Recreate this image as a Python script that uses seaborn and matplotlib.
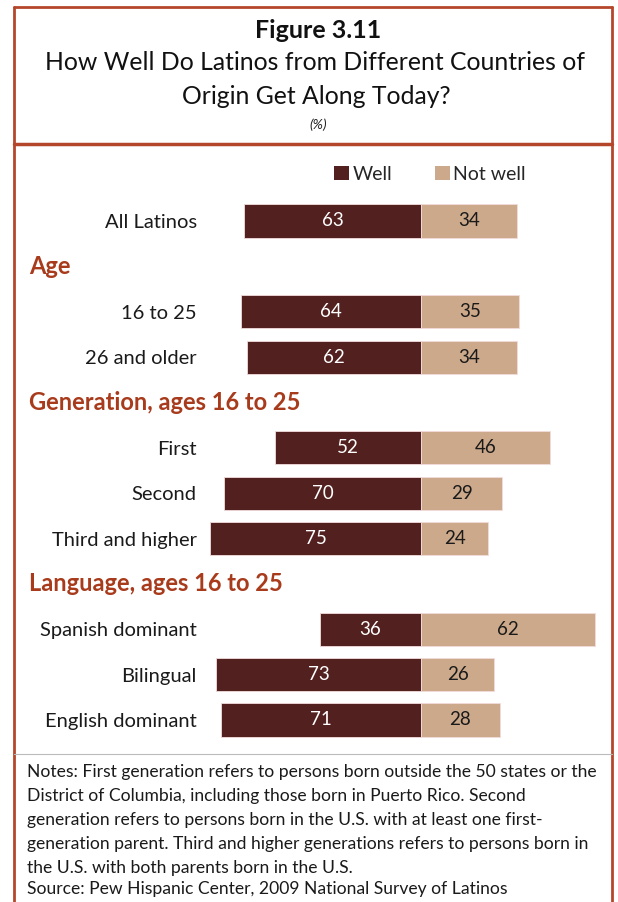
import pandas as pd
import matplotlib.pyplot as plt
import seaborn as sns
from matplotlib.patches import Patch
from matplotlib.lines import Line2D
import matplotlib.transforms as mtransforms

# rows of the chart, top to bottom (headers have no values)
rows = ['All Latinos', 'Age', '16 to 25', '26 and older',
        'Generation, ages 16 to 25', 'First', 'Second', 'Third and higher',
        'Language, ages 16 to 25', 'Spanish dominant', 'Bilingual', 'English dominant']
headers = ['Age', 'Generation, ages 16 to 25', 'Language, ages 16 to 25']

groups = ['All Latinos', '16 to 25', '26 and older', 'First', 'Second',
          'Third and higher', 'Spanish dominant', 'Bilingual', 'English dominant']
well = [63, 64, 62, 52, 70, 75, 36, 73, 71]
not_well = [34, 35, 34, 46, 29, 24, 62, 26, 28]

WELL_C = '#52211f'
NOT_C = '#cca98a'
RUST = '#a83b1c'
FRAME = '#b4462b'

df = pd.DataFrame({'group': groups, 'well': well, 'not_well': not_well})
df['well_neg'] = -df['well']

sns.set_style('white')
plt.rcParams['font.family'] = ['Lato', 'DejaVu Sans']

W, H = 618, 902
fig = plt.figure(figsize=(W / 100, H / 100), dpi=100)

def fx(px):
    return px / W

def fy(py):
    return 1 - py / H

# axes placement in pixels
ax_l, ax_r, ax_t, ax_b = 205, 605, 195, 745
zero_px, scale = 421, 2.81
row0_px, pitch = 221, 45.36
ax = fig.add_axes([fx(ax_l), fy(ax_b), (ax_r - ax_l) / W, (ax_b - ax_t) / H])

sns.barplot(data=df, y='group', x='well_neg', order=rows, color=WELL_C,
            width=0.73, edgecolor='#f3dcdc', linewidth=0.6, ax=ax, saturation=1)
sns.barplot(data=df, y='group', x='not_well', order=rows, color=NOT_C,
            width=0.73, edgecolor='#f3dcdc', linewidth=0.6, ax=ax, saturation=1)

ax.set_xlim((ax_l - zero_px) / scale, (ax_r - zero_px) / scale)
ax.set_ylim((ax_b - row0_px) / pitch, (ax_t - row0_px) / pitch)

# value labels
for i, g in enumerate(rows):
    if g in headers:
        continue
    r = df[df['group'] == g].iloc[0]
    ax.text(-r['well'] / 2, i, f"{r['well']}", ha='center', va='center',
            color='white', fontsize=13.5)
    ax.text(r['not_well'] / 2, i, f"{r['not_well']}", ha='center', va='center',
            color='#1a1a1a', fontsize=13.5)

ax.set_xlabel('')
ax.set_ylabel('')
ax.set_xticks([])
ax.tick_params(axis='y', length=0, pad=6, labelsize=14.5, labelcolor='#1a1a1a')
ax.set_yticks(range(len(rows)))
ax.set_yticklabels(['' if r in headers else r for r in rows])
for s in ax.spines.values():
    s.set_visible(False)
ax.patch.set_alpha(0)

# section headers
trans = mtransforms.blended_transform_factory(fig.transFigure, ax.transData)
for h in headers:
    ax.text(fx(29), rows.index(h), h, transform=trans, ha='left', va='center',
            fontsize=17, fontweight='bold', color=RUST)

# legend
handles = [Patch(facecolor=WELL_C, edgecolor='none', label='Well'),
           Patch(facecolor=NOT_C, edgecolor='none', label='Not well')]
fig.legend(handles=handles, loc='center', bbox_to_anchor=(fx(430), fy(174)),
           ncol=2, frameon=False, fontsize=14, handlelength=0.75,
           handleheight=0.75, handletextpad=0.2, columnspacing=2.2)

# title block
fig.text(fx(318), fy(30), 'Figure 3.11', ha='center', va='center',
         fontsize=18, fontweight='bold', color='#111111')
fig.text(fx(315), fy(63), 'How Well Do Latinos from Different Countries of',
         ha='center', va='center', fontsize=17.8, color='#111111')
fig.text(fx(316), fy(96), 'Origin Get Along Today?',
         ha='center', va='center', fontsize=17.8, color='#111111')
fig.text(fx(318), fy(125), '(%)', ha='center', va='center',
         fontsize=10, style='italic', color='#222222')

# notes
notes = ['Notes: First generation refers to persons born outside the 50 states or the',
         'District of Columbia, including those born in Puerto Rico. Second',
         'generation refers to persons born in the U.S. with at least one first-',
         'generation parent. Third and higher generations refers to persons born in',
         'the U.S. with both parents born in the U.S.']
for k, line in enumerate(notes):
    fig.text(fx(27), fy(772 + k * 24), line, ha='left', va='center',
             fontsize=12.6, color='#1a1a1a')
fig.text(fx(27), fy(889), 'Source: Pew Hispanic Center, 2009 National Survey of Latinos',
         ha='left', va='center', fontsize=12.6, color='#1a1a1a')

# frame lines
def fline(x0, y0, x1, y1, **kw):
    fig.add_artist(Line2D([fx(x0), fx(x1)], [fy(y0), fy(y1)],
                          transform=fig.transFigure, **kw))

fline(14, 7, 612, 7, color=FRAME, lw=2)
fline(14, 7, 14, 902, color=FRAME, lw=2)
fline(612, 7, 612, 902, color=FRAME, lw=2)
fline(14, 144, 612, 144, color=FRAME, lw=2.5)
fline(14, 754, 612, 754, color='#bbbbbb', lw=0.8)

fig.savefig('out.png', dpi=100, facecolor='white')
